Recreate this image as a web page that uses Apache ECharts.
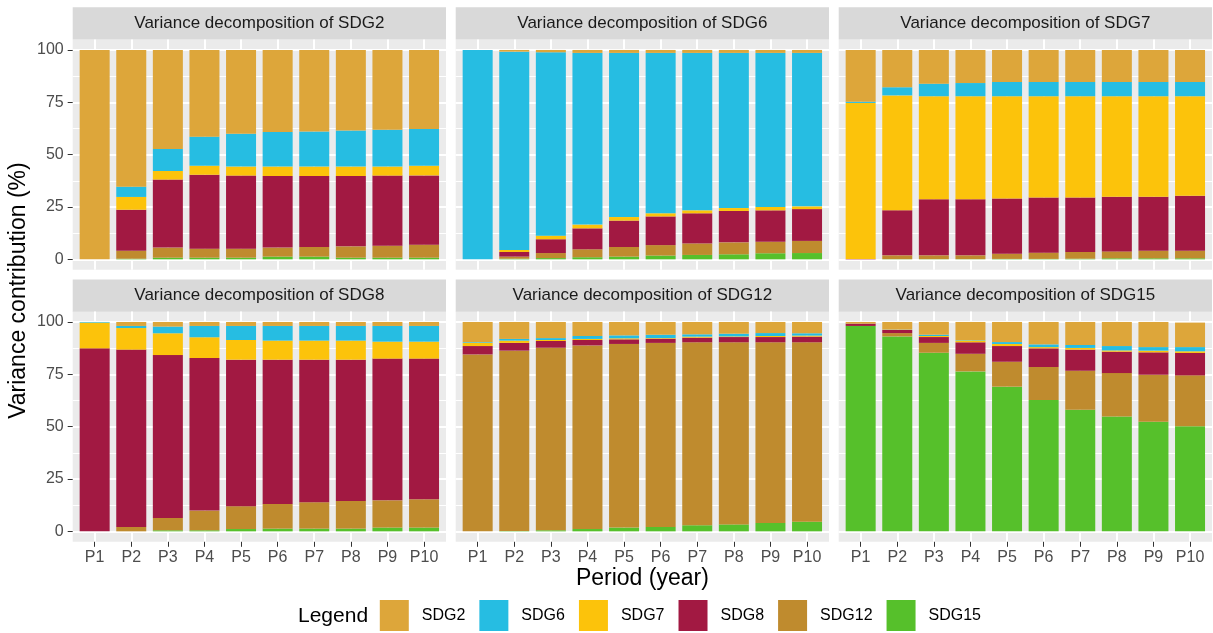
<!DOCTYPE html>
<html>
<head>
<meta charset="utf-8">
<title>Variance decomposition of SDGs</title>
<script src="https://cdn.jsdelivr.net/npm/echarts@6/dist/echarts.min.js"></script>
<style>
  html, body { margin: 0; padding: 0; background: #ffffff; }
  #chart { width: 1213px; height: 633px; }
</style>
</head>
<body>
<div id="chart"></div>
<script>
// Forecast periods on the x axis
const periods = ['P1', 'P2', 'P3', 'P4', 'P5', 'P6', 'P7', 'P8', 'P9', 'P10'];
// Shocks, in legend order (first one is drawn on top of each stack)
const shocks = ['SDG2', 'SDG6', 'SDG7', 'SDG8', 'SDG12', 'SDG15'];
const shockColors = ['#DDA63A', '#26BDE2', '#FCC30B', '#A21942', '#BF8B2E', '#56C02B'];
const panelTitles = [
  'Variance decomposition of SDG2', 'Variance decomposition of SDG6', 'Variance decomposition of SDG7',
  'Variance decomposition of SDG8', 'Variance decomposition of SDG12', 'Variance decomposition of SDG15'
];
const yTicks = [0, 25, 50, 75, 100];

// Share (%) of the forecast error variance of SDG2 explained by each shock
const sdg2_bySDG2  = [100, 65.3, 47.3, 41.4, 40.0, 39.2, 38.9, 38.5, 38.1, 37.7];
const sdg2_bySDG6  = [0, 4.9, 10.5, 13.9, 15.7, 16.5, 16.8, 17.2, 17.6, 17.6];
const sdg2_bySDG7  = [0, 6.1, 4.1, 4.3, 4.3, 4.5, 4.5, 4.5, 4.3, 4.6];
const sdg2_bySDG8  = [0, 19.6, 32.5, 35.3, 34.9, 34.2, 33.9, 33.6, 33.5, 33.1];
const sdg2_bySDG12 = [0, 3.8, 4.8, 4.3, 4.3, 4.3, 4.6, 5.4, 5.7, 6.2];
const sdg2_bySDG15 = [0, 0.3, 0.8, 0.8, 0.8, 1.3, 1.3, 0.8, 0.8, 0.8];

// SDG6
const sdg6_bySDG2  = [0, 0.8, 1.1, 1.4, 1.4, 1.4, 1.4, 1.4, 1.4, 1.4];
const sdg6_bySDG6  = [100, 94.7, 87.6, 82.0, 78.4, 76.6, 75.2, 74.1, 73.6, 73.3];
const sdg6_bySDG7  = [0, 1.0, 1.7, 1.8, 1.7, 1.5, 1.4, 1.4, 1.6, 1.3];
const sdg6_bySDG8  = [0, 2.2, 6.6, 10.0, 12.6, 13.7, 14.4, 15.0, 15.0, 15.2];
const sdg6_bySDG12 = [0, 1.0, 2.4, 3.8, 4.6, 5.0, 5.5, 5.7, 5.5, 5.8];
const sdg6_bySDG15 = [0, 0.3, 0.6, 1.0, 1.3, 1.8, 2.1, 2.4, 2.9, 3.0];

// SDG7
const sdg7_bySDG2  = [24.7, 17.8, 16.1, 15.8, 15.3, 15.3, 15.3, 15.3, 15.3, 15.3];
const sdg7_bySDG6  = [0.6, 3.9, 6.0, 6.3, 6.8, 6.8, 6.8, 6.8, 6.8, 6.8];
const sdg7_bySDG7  = [74.5, 54.9, 49.2, 49.2, 48.8, 48.4, 48.4, 48.0, 48.0, 47.5];
const sdg7_bySDG8  = [0.2, 21.5, 26.8, 26.8, 26.4, 26.3, 26.0, 26.1, 25.8, 26.3];
const sdg7_bySDG12 = [0, 1.8, 1.8, 1.8, 2.5, 3.0, 3.2, 3.3, 3.6, 3.6];
const sdg7_bySDG15 = [0, 0.1, 0.1, 0.1, 0.2, 0.2, 0.3, 0.5, 0.5, 0.5];

// SDG8
const sdg8_bySDG2  = [0, 1.9, 2.2, 1.9, 1.9, 1.9, 1.9, 1.9, 1.9, 1.9];
const sdg8_bySDG6  = [0.3, 1.0, 3.2, 5.4, 6.7, 7.0, 7.0, 7.0, 7.5, 7.5];
const sdg8_bySDG7  = [12.3, 10.3, 10.4, 9.9, 9.4, 9.1, 9.1, 9.1, 8.1, 8.1];
const sdg8_bySDG8  = [87.4, 84.7, 77.8, 72.9, 70.0, 68.9, 68.1, 67.5, 67.7, 67.2];
const sdg8_bySDG12 = [0, 2.1, 5.9, 9.4, 10.9, 11.8, 12.6, 13.2, 13.0, 13.5];
const sdg8_bySDG15 = [0, 0, 0.5, 0.5, 1.1, 1.3, 1.3, 1.3, 1.8, 1.8];

// SDG12
const sdg12_bySDG2  = [9.6, 8.1, 7.7, 6.7, 6.4, 6.1, 5.9, 5.6, 5.3, 5.4];
const sdg12_bySDG6  = [0.3, 0.8, 0.9, 1.4, 1.4, 1.6, 1.1, 1.3, 1.4, 1.1];
const sdg12_bySDG7  = [1.6, 1.1, 0.5, 0.5, 0.5, 0.3, 0.5, 0.3, 0.5, 0.5];
const sdg12_bySDG8  = [4.0, 3.7, 3.2, 2.6, 2.2, 2.0, 2.2, 2.5, 2.5, 2.7];
const sdg12_bySDG12 = [84.5, 86.1, 87.2, 87.7, 87.7, 87.9, 87.4, 87.0, 86.3, 85.7];
const sdg12_bySDG15 = [0, 0.2, 0.5, 1.1, 1.8, 2.1, 2.9, 3.3, 4.0, 4.6];

// SDG15
const sdg15_bySDG2  = [0.8, 3.6, 6.1, 8.6, 9.6, 10.7, 11.0, 11.5, 12.0, 11.7];
const sdg15_bySDG6  = [0, 0.1, 0.6, 0.2, 0.9, 1.3, 1.4, 2.1, 1.7, 2.0];
const sdg15_bySDG7  = [0, 0.1, 0.5, 0.9, 1.0, 0.6, 0.8, 0.6, 0.8, 0.8];
const sdg15_bySDG8  = [1.1, 1.5, 2.8, 5.5, 7.5, 8.9, 10.1, 10.2, 10.7, 10.7];
const sdg15_bySDG12 = [0, 1.6, 4.7, 8.4, 11.9, 15.8, 18.6, 20.7, 22.5, 24.3];
const sdg15_bySDG15 = [98.1, 93.1, 85.3, 76.4, 69.1, 62.7, 58.1, 54.9, 52.3, 50.2];

// One row per panel, columns in the same order as `shocks`
const panelData = [
  [sdg2_bySDG2, sdg2_bySDG6, sdg2_bySDG7, sdg2_bySDG8, sdg2_bySDG12, sdg2_bySDG15],
  [sdg6_bySDG2, sdg6_bySDG6, sdg6_bySDG7, sdg6_bySDG8, sdg6_bySDG12, sdg6_bySDG15],
  [sdg7_bySDG2, sdg7_bySDG6, sdg7_bySDG7, sdg7_bySDG8, sdg7_bySDG12, sdg7_bySDG15],
  [sdg8_bySDG2, sdg8_bySDG6, sdg8_bySDG7, sdg8_bySDG8, sdg8_bySDG12, sdg8_bySDG15],
  [sdg12_bySDG2, sdg12_bySDG6, sdg12_bySDG7, sdg12_bySDG8, sdg12_bySDG12, sdg12_bySDG15],
  [sdg15_bySDG2, sdg15_bySDG6, sdg15_bySDG7, sdg15_bySDG8, sdg15_bySDG12, sdg15_bySDG15]
];

// ---- layout ----
const FONT = "'Liberation Sans', Arial, Helvetica, sans-serif";
const LEFT0 = 72.7, PANEL_W = 373.3, GAP_X = 9.7;
const ROW_TOP = [39.5, 311.5], PANEL_H = 230.3;
const STRIP_TOP = [7.3, 279.5], STRIP_H = 32.2;
const UNIT = PANEL_W / 10.2;            // one category band, with 0.6 band padding at each end
const Y_PAD = PANEL_H * 5 / 110;        // 5% padding above 100 and below 0
const Y_H = PANEL_H * 100 / 110;

const grids = [], xAxes = [], yAxes = [], series = [], graphics = [];

panelData.forEach((rows, k) => {
  const col = k % 3, row = Math.floor(k / 3);
  const left = LEFT0 + col * (PANEL_W + GAP_X);
  const top = ROW_TOP[row];
  const innerLeft = left + 0.1 * UNIT, innerW = 10 * UNIT;
  const yTop = top + Y_PAD;

  // panel background and facet strip
  graphics.push({ type: 'rect', z: -10, silent: true,
    shape: { x: left, y: top, width: PANEL_W, height: PANEL_H }, style: { fill: '#EBEBEB' } });
  graphics.push({ type: 'rect', z: -10, silent: true,
    shape: { x: left, y: STRIP_TOP[row], width: PANEL_W, height: STRIP_H }, style: { fill: '#D9D9D9' } });
  graphics.push({ type: 'text', silent: true,
    style: { text: panelTitles[k], x: left + PANEL_W / 2, y: STRIP_TOP[row] + STRIP_H / 2,
      textAlign: 'center', textVerticalAlign: 'middle', fontSize: 17, fontFamily: FONT, fill: '#1A1A1A' } });

  const g = grids.length;

  // horizontal grid lines and y labels
  grids.push({ left: left, top: yTop, width: PANEL_W, height: Y_H, outerBoundsMode: 'none' });
  xAxes.push({ gridIndex: g, type: 'value', show: false, min: 0, max: 1 });
  yAxes.push({
    gridIndex: g, type: 'value', min: yTicks[0], max: yTicks[yTicks.length - 1], interval: 25,
    axisLine: { show: false },
    axisTick: { show: col === 0, length: 5, lineStyle: { color: '#333333', width: 1 } },
    axisLabel: { show: col === 0, margin: 9, color: '#4D4D4D', fontSize: 16, fontFamily: FONT },
    splitLine: { show: true, lineStyle: { color: '#FFFFFF', width: 2 } },
    minorTick: { show: false, splitNumber: 2 },
    minorSplitLine: { show: true, lineStyle: { color: '#FFFFFF', width: 1 } }
  });

  // vertical grid lines and period labels
  grids.push({ left: innerLeft, top: top, width: innerW, height: PANEL_H, outerBoundsMode: 'none' });
  xAxes.push({
    gridIndex: g + 1, type: 'category', data: periods, boundaryGap: true,
    axisLine: { show: false },
    axisTick: { show: row === 1, alignWithLabel: true, length: 5, lineStyle: { color: '#333333', width: 1 } },
    axisLabel: { show: row === 1, margin: 8, color: '#4D4D4D', fontSize: 16, fontFamily: FONT, interval: 0 },
    splitLine: { show: true, alignWithLabel: true, interval: 0, lineStyle: { color: '#FFFFFF', width: 2 } }
  });
  yAxes.push({ gridIndex: g + 1, type: 'value', show: false, min: 0, max: 1 });

  // stacked bars
  grids.push({ left: innerLeft, top: yTop, width: innerW, height: Y_H, outerBoundsMode: 'none' });
  xAxes.push({ gridIndex: g + 2, type: 'category', data: periods, show: false });
  yAxes.push({ gridIndex: g + 2, type: 'value', min: 0, max: 100, show: false });

  // bottom of the stack is the last shock, top is the first
  for (let s = shocks.length - 1; s >= 0; s--) {
    series.push({
      type: 'bar', name: shocks[s], stack: 'panel' + k,
      xAxisIndex: g + 2, yAxisIndex: g + 2,
      data: rows[s], barWidth: 0.82 * UNIT,
      itemStyle: { color: shockColors[s] },
      emphasis: { disabled: true }
    });
  }
});

// axis titles and legend title
graphics.push({ type: 'text', silent: true,
  style: { text: 'Period (year)', x: LEFT0 + 1.5 * PANEL_W + GAP_X, y: 579,
    textAlign: 'center', textVerticalAlign: 'middle', fontSize: 23, fontFamily: FONT, fill: '#000000' } });
graphics.push({ type: 'text', silent: true, x: 19, y: 290.6, rotation: Math.PI / 2,
  style: { text: 'Variance contribution (%)', x: 0, y: 0,
    textAlign: 'center', textVerticalAlign: 'middle', fontSize: 23, fontFamily: FONT, fill: '#000000' } });
graphics.push({ type: 'text', silent: true,
  style: { text: 'Legend', x: 298, y: 616,
    textAlign: 'left', textVerticalAlign: 'middle', fontSize: 21, fontFamily: FONT, fill: '#000000' } });

const chart = echarts.init(document.getElementById('chart'), null, { renderer: 'canvas' });
chart.setOption({
  animation: false,
  backgroundColor: '#FFFFFF',
  color: shockColors,
  grid: grids,
  xAxis: xAxes,
  yAxis: yAxes,
  series: series,
  legend: {
    data: shocks, left: 379.8, top: 600, orient: 'horizontal', padding: 0,
    icon: 'rect', itemWidth: 29, itemHeight: 31, itemGap: 14,
    textStyle: { fontSize: 16, fontFamily: FONT, color: '#000000', padding: [0, 0, 0, 8] }
  },
  graphic: { elements: graphics }
});
</script>
</body>
</html>
